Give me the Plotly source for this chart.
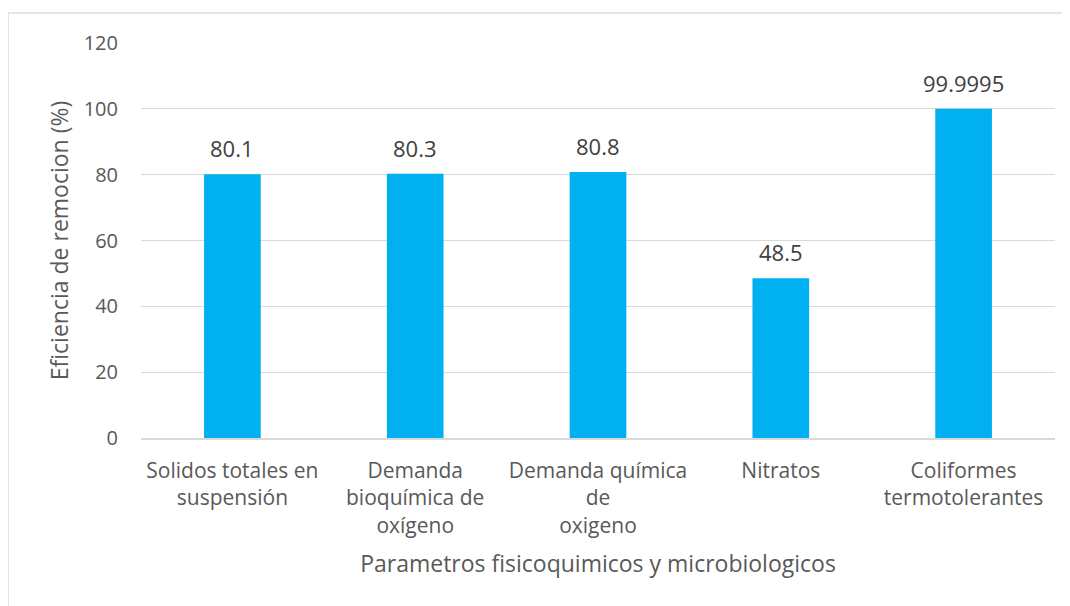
import plotly.graph_objects as go

categories = [
    "Solidos totales en<br>suspensión",
    "Demanda<br>bioquímica de<br>oxígeno",
    "Demanda química<br>de<br>oxigeno",
    "Nitratos",
    "Coliformes<br>termotolerantes",
]
values = [80.1, 80.3, 80.8, 48.5, 99.9995]
labels = ["80.1", "80.3", "80.8", "48.5", "99.9995"]
y_ticks = [0, 20, 40, 60, 80, 100, 120]

font = "Open Sans"
grey = "#595959"

fig = go.Figure()
fig.add_bar(
    x=categories, y=values,
    marker=dict(color="#00B0F0", line=dict(width=0)),
)

# value labels sit a bit higher above the bars than plotly's outside text
for cat, val, lab in zip(categories, values, labels):
    fig.add_annotation(
        x=cat, y=val, text=lab, showarrow=False, yanchor="bottom", yshift=9,
        font=dict(size=22, color="#404040", family=font),
    )

# page body has an 8px margin, so offsets are taken 8px smaller
fig.update_layout(
    width=1062, height=598,
    margin=dict(l=133, r=15, t=35, b=168),
    plot_bgcolor="white", paper_bgcolor="white",
    bargap=0.69, showlegend=False,
    font=dict(family=font, color=grey, size=21),
    shapes=[dict(type="rect", xref="paper", yref="paper",
                 x0=-0.1455, x1=1.0142, y0=-0.6, y1=1.076,
                 line=dict(color="#d9dde6", width=1.5))],
)
fig.update_yaxes(
    range=[0, 120], tickvals=y_ticks, showgrid=True, gridcolor="#d9d9d9",
    zeroline=False, tickfont=dict(size=20), ticklabelstandoff=22,
    title=dict(text="Eficiencia de remocion (%)", font=dict(size=23), standoff=8),
)
fig.update_xaxes(
    showline=True, linecolor="#d9d9d9", linewidth=1.5,
    tickfont=dict(size=21), ticks="", ticklabelstandoff=13,
    title=dict(text="Parametros fisicoquimicos y microbiologicos", font=dict(size=23), standoff=18),
)

fig.write_html("out.html")
